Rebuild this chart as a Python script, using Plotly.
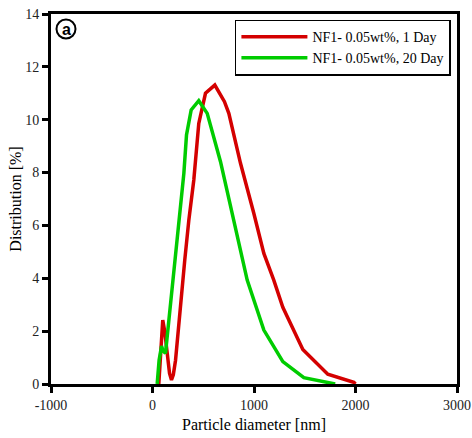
import plotly.graph_objects as go

# Data
red_x = [62, 80, 101, 120, 145, 168, 187, 205, 227, 276, 318, 358, 407, 456, 522, 614, 709, 752, 867, 998, 1097, 1195, 1284, 1481, 1727, 1984, 2000]
red_y = [0.0, 1.3, 2.42, 2.0, 1.16, 0.4, 0.15, 0.35, 0.9, 3.05, 4.7, 6.2, 7.72, 9.86, 11.0, 11.31, 10.68, 10.24, 8.35, 6.46, 4.94, 3.93, 2.9, 1.31, 0.37, 0.06, 0.0]
green_x = [46, 65, 89, 105, 128, 150, 177, 227, 259, 309, 335, 381, 456, 539, 670, 818, 933, 1097, 1284, 1491, 1721, 1800]
green_y = [0.0, 0.9, 1.44, 1.25, 1.16, 2.0, 3.05, 4.95, 6.2, 7.97, 9.42, 10.37, 10.72, 10.24, 8.41, 5.83, 3.93, 2.04, 0.85, 0.24, 0.06, 0.0]
series_names = ["NF1- 0.05wt%, 1 Day", "NF1- 0.05wt%, 20 Day"]
x_ticks = [-1000, 0, 1000, 2000, 3000]
x_ticktext = ["-1000", "0", "1000", "2000", "3000"]
y_ticks = [0, 2, 4, 6, 8, 10, 12, 14]

FONT = "Liberation Serif"

fig = go.Figure()
fig.add_trace(go.Scatter(x=red_x, y=red_y, mode="lines", name=series_names[0],
                         line=dict(color="#d40000", width=3.5)))
fig.add_trace(go.Scatter(x=green_x, y=green_y, mode="lines", name=series_names[1],
                         line=dict(color="#00cc00", width=3.5)))

axis_common = dict(showline=True, linecolor="black", linewidth=3, mirror=True,
                   ticks="outside", ticklen=6, tickwidth=3, tickcolor="black",
                   showgrid=False, zeroline=False, automargin=False,
                   tickfont=dict(family=FONT, size=14, color="#222"))

fig.update_xaxes(range=[-1000, 3000], tickvals=x_ticks, ticktext=x_ticktext,
                 title=dict(text="Particle diameter [nm]", font=dict(family=FONT, size=16, color="black"), standoff=8),
                 **axis_common)
fig.update_yaxes(range=[0, 14], tickvals=y_ticks,
                 title=dict(text="Distribution [%]", font=dict(family=FONT, size=16, color="black"), standoff=0),
                 **axis_common)

# circled "a" label
fig.add_shape(type="circle", xref="paper", yref="paper", xsizemode="pixel", ysizemode="pixel",
              xanchor=(66 - 51) / 406, yanchor=(384 - 29) / 370,
              x0=-9.5, x1=9.5, y0=-9.5, y1=9.5, line=dict(color="black", width=2))
fig.add_annotation(x=(66 - 51) / 406, y=(384 - 29) / 370, xref="paper", yref="paper",
                   text="<b>a</b>", showarrow=False, font=dict(family="Liberation Sans", size=16, color="black"),
                   xanchor="center", yanchor="middle")

fig.update_layout(
    width=472, height=438,
    margin=dict(l=51, r=15, t=14, b=54, autoexpand=False),
    paper_bgcolor="white", plot_bgcolor="white",
    showlegend=True,
    legend=dict(x=0.985, y=0.985, xanchor="right", yanchor="top",
                bgcolor="white", bordercolor="black", borderwidth=1.5,
                font=dict(family=FONT, size=14, color="black"),
                itemwidth=66, tracegroupgap=0),
)

fig.write_html("out.html")
